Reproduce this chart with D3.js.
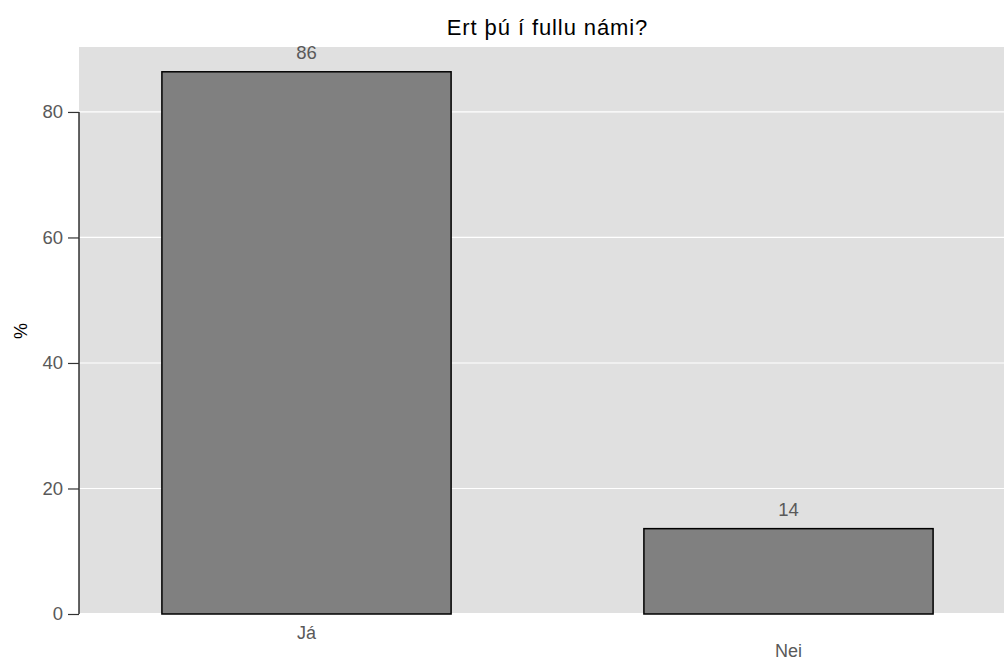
<!DOCTYPE html>
<html><head><meta charset="utf-8">
<script src="https://cdn.jsdelivr.net/npm/d3@7"></script>
<style>body{margin:0;background:#fff}svg{display:block;font-family:"Liberation Sans",Arial,sans-serif}</style>
</head><body><svg id="c" width="1004" height="664"></svg>
<script>
const categories = ["Já", "Nei"];
const values = [86.4, 13.6];
const valueLabels = ["86", "14"];
const yTicks = [0, 20, 40, 60, 80];
const title = "Ert þú í fullu námi?";
const yTitle = "%";

const svg = d3.select("#c");
const L = 79, R = 1016, T = 47, B = 613;
const y = d3.scaleLinear().domain([0, 90.35]).range([B + 1, T]);
const x = d3.scaleBand().domain(categories).range([L, R]).paddingInner(0.4).paddingOuter(0.172);

svg.append("rect").attr("x", L).attr("y", T).attr("width", R - L).attr("height", B - T).attr("fill", "#e0e0e0");
svg.append("g").selectAll("line").data(yTicks.filter(d => d > 0)).join("line")
  .attr("x1", L).attr("x2", R).attr("y1", d => y(d)).attr("y2", d => y(d))
  .attr("stroke", "#fff").attr("stroke-width", 1.2);

svg.append("g").selectAll("rect").data(categories).join("rect")
  .attr("x", d => x(d)).attr("width", x.bandwidth())
  .attr("y", (d, i) => y(values[i])).attr("height", (d, i) => y(0) - y(values[i]))
  .attr("fill", "#808080").attr("stroke", "#000").attr("stroke-width", 1.5);

svg.append("g").selectAll("text").data(categories).join("text")
  .attr("x", d => x(d) + x.bandwidth() / 2).attr("y", (d, i) => y(values[i]) - 13)
  .attr("text-anchor", "middle").attr("font-size", 18.5).attr("fill", "#595959")
  .text((d, i) => valueLabels[i]);

// y axis
const ya = svg.append("g").attr("transform", `translate(${L},0)`)
  .call(d3.axisLeft(y).tickValues(yTicks).tickSize(11).tickPadding(5));
ya.select(".domain").attr("d", `M0,${y(80)}V${y(0)}`).attr("stroke", "#000").attr("stroke-width", 1.2);
ya.selectAll(".tick line").attr("stroke", "#333").attr("stroke-width", 1.2);
ya.selectAll(".tick text").attr("font-size", 18.5).attr("fill", "#595959").attr("font-family", "Liberation Sans, Arial, sans-serif");

// x labels, staggered
svg.append("g").selectAll("text").data(categories).join("text")
  .attr("x", d => x(d) + x.bandwidth() / 2).attr("y", (d, i) => 638.5 + i * 18.5)
  .attr("text-anchor", "middle").attr("font-size", 18).attr("fill", "#595959").text(d => d);

svg.append("text").attr("x", (L + R) / 2).attr("y", 35).attr("text-anchor", "middle")
  .attr("font-size", 22).attr("letter-spacing", 0.9).attr("fill", "#000").text(title);
svg.append("text").attr("transform", "translate(27,331) rotate(-90)").attr("text-anchor", "middle")
  .attr("font-size", 18).attr("fill", "#000").text(yTitle);
</script></body></html>
